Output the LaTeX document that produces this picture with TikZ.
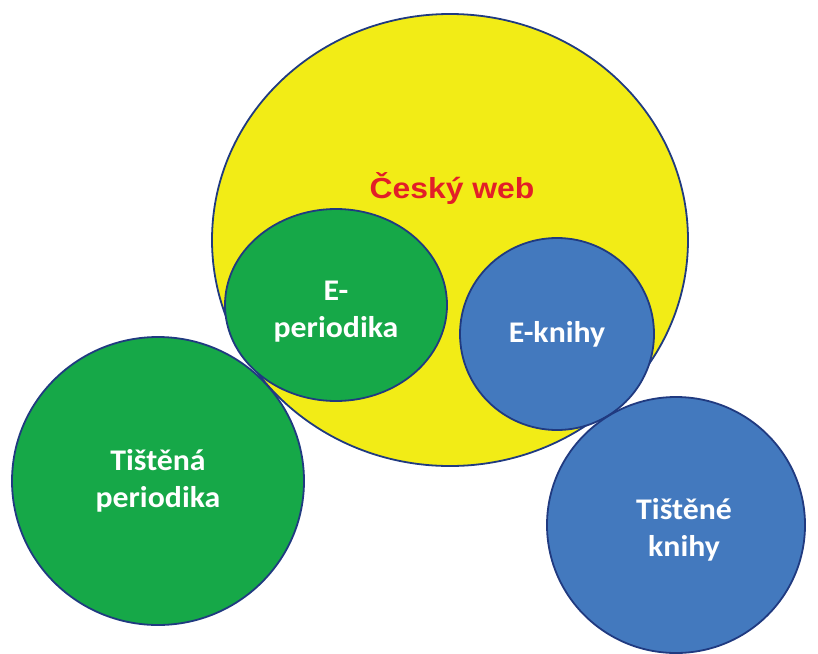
\documentclass[tikz,border=0pt]{standalone}
\usepackage{fontspec}
\setmainfont{Carlito}[FakeStretch=1.06]
\newfontfamily\webfont{Liberation Sans}[FakeStretch=1.1]
\usetikzlibrary{shapes.geometric}
\usetikzlibrary{positioning}
\definecolor{webyellow}{RGB}{242,236,22}
\definecolor{pergreen}{RGB}{22,168,72}
\definecolor{bookblue}{RGB}{67,121,190}
\definecolor{rimblue}{RGB}{32,58,128}
\definecolor{webred}{RGB}{226,30,40}
\tikzstyle{bubble}=[ellipse, draw=rimblue, line width=1.8pt, inner sep=0pt, align=center, text=white, font=\fontsize{30}{37}\selectfont\bfseries]
\tikzstyle{caption}=[align=center, text=white, font=\fontsize{30}{37}\selectfont\bfseries]

\begin{document}
\begin{tikzpicture}[x=1pt,y=-1pt]
	\useasboundingbox (0,0) rectangle (818,653);
	\node[bubble, fill=webyellow, minimum width=476, minimum height=452] (web) at (450,240) {};
	\node[anchor=base, text=webred, font=\webfont\fontsize{29}{34}\selectfont\bfseries] (webtxt) at (452,198) {Český web};
	\node[bubble, fill=pergreen, minimum width=222, minimum height=192] (eper) at (336,305) {};
	\node[caption] (epertxt) at (336,312) {E-\\periodika};
	\node[bubble, fill=bookblue, minimum width=194, minimum height=192] (ebook) at (557,334) {E-knihy};
	\node[bubble, fill=pergreen, minimum width=292, minimum height=288] (tper) at (158,481) {Tištěná\\periodika};
	\node[bubble, fill=bookblue, minimum width=258, minimum height=256] (tbook) at (676,525) {};
	\node[caption] (tbooktxt) at (684,530) {Tištěné\\knihy};
\end{tikzpicture}
\end{document}
